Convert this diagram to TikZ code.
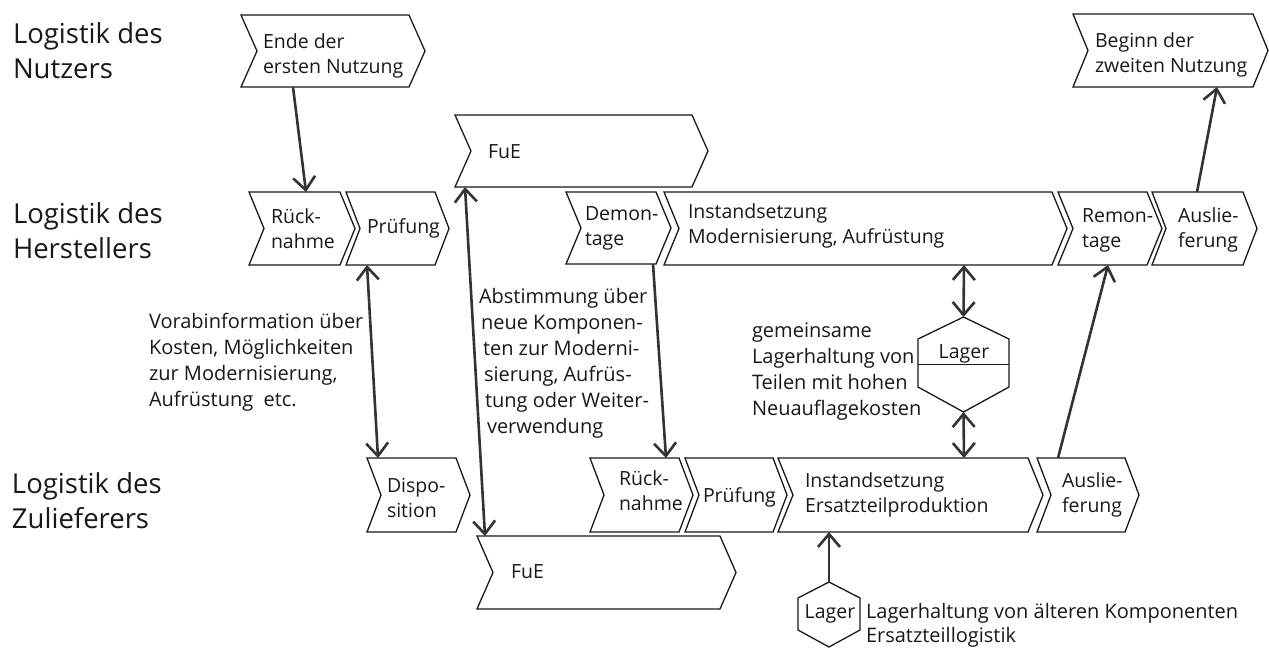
\documentclass[tikz,border=0pt]{standalone}
\usepackage{fontspec}
\setmainfont{Open Sans}
\usetikzlibrary{arrows.meta,calc}
\newcommand{\ml}[1]{\vtop{\halign{##\hfil\cr#1\crcr}}}
\tikzset{
  chevline/.style={draw=black!90, line width=1.3pt, line join=miter},
  geo/.style={draw=none, inner sep=0pt, outer sep=0pt, anchor=north west},
  ctext/.style={anchor=base west, inner sep=0pt, outer sep=0pt, font=\fontsize{19.5}{25.5}\selectfont, text=black!90},
  rowlabel/.style={anchor=base west, inner sep=0pt, outer sep=0pt, font=\fontsize{27.5}{35.5}\selectfont, text=black!90},
  note/.style={anchor=base west, inner sep=0pt, outer sep=0pt, font=\fontsize{20}{26}\selectfont, text=black!90},
  flow/.style={line width=2.6pt, draw=black!80, -{Straight Barb[length=13pt,width=22pt]}},
  flowtwo/.style={flow, {Straight Barb[length=13pt,width=22pt]}-{Straight Barb[length=13pt,width=22pt]}},
}
% name, xl, xr, yt, yb, depth, text x, text baseline, text
\newcommand{\chev}[9]{%
  \node[geo, minimum width={#3-#2}, minimum height={#5-#4}] (#1) at (#2,#4) {};
  \draw[chevline] (#1.north west) -- (#1.north east) -- ([xshift=#6pt]#1.east) -- (#1.south east) -- (#1.south west) -- ([xshift=#6pt]#1.west) -- cycle;
  \node[ctext] (#1-t) at (#7,#8) {#9};
}
\begin{document}
\begin{tikzpicture}[x=1pt,y=-1pt]
\fill[white] (0,0) rectangle (1269,648);
\useasboundingbox (0,0) rectangle (1269,648);

% row labels
\node[rowlabel] (rowN) at (13,43) {\ml{Logistik des\cr Nutzers}};
\node[rowlabel] (rowH) at (13,223) {\ml{Logistik des\cr Herstellers}};
\node[rowlabel] (rowZ) at (12,493) {\ml{Logistik des\cr Zulieferers}};

% Nutzer
\chev{ende}{241}{409}{15}{87}{16}{263}{48}{\ml{Ende der\cr ersten Nutzung}}
\chev{beginn}{1073}{1253}{14}{87}{15}{1095}{47}{\ml{Beginn der\cr zweiten Nutzung}}

% Hersteller
\chev{fueH}{455}{692}{115}{187}{16}{488}{158}{FuE}
\chev{rueckH}{249}{340}{192}{265}{15}{271}{223}{\ml{Rück-\cr nahme}}
\chev{pruefH}{346}{435}{192}{265}{14}{367}{233}{Prüfung}
\chev{demH}{566}{656}{192}{264}{15}{585}{220}{\ml{Demon-\cr tage}}
\chev{instH}{664}{1052}{192}{265}{15}{688}{218}{\ml{Instandsetzung\cr Modernisierung, Aufrüstung}}
\chev{remH}{1058}{1147}{192}{265}{15}{1082}{222}{\ml{Remon-\cr tage}}
\chev{auslH}{1152}{1243}{192}{265}{14}{1178}{222}{\ml{Auslie-\cr ferung}}

% Zulieferer
\chev{dispZ}{367}{456}{458}{532}{14}{387}{492}{\ml{Dispo-\cr sition}}
\chev{fueZ}{477}{720}{536}{609}{16}{511}{578}{FuE}
\chev{rueckZ}{590}{679}{458}{532}{14}{619}{485}{\ml{Rück-\cr nahme}}
\chev{pruefZ}{685}{773}{458}{532}{14}{703}{502}{Prüfung}
\chev{instZ}{778}{1028}{458}{532}{15}{805}{487}{\ml{Instandsetzung\cr Ersatzteilproduktion}}
\chev{auslZ}{1037}{1125}{458}{532}{14}{1062}{487}{\ml{Auslie-\cr ferung}}

% Lager (gemeinsam)
\node[geo, minimum width=91, minimum height=95] (lagerA) at (918,317) {};
\draw[chevline] (lagerA.north) -- ([yshift=-22pt]lagerA.north east) -- ([yshift=25pt]lagerA.south east) -- (lagerA.south) -- ([yshift=25pt]lagerA.south west) -- ([yshift=-22pt]lagerA.north west) -- cycle;
\draw[chevline] (lagerA.west) -- (lagerA.east);
\node[ctext, anchor=base] (lagerA-t) at (964,358) {Lager};

% Lager (Zulieferer)
\node[geo, minimum width=62, minimum height=65] (lagerB) at (798,582) {};
\draw[chevline] (lagerB.north) -- ([yshift=-16pt]lagerB.north east) -- ([yshift=17pt]lagerB.south east) -- (lagerB.south) -- ([yshift=17pt]lagerB.south west) -- ([yshift=-16pt]lagerB.north west) -- cycle;
\node[ctext, anchor=base] (lagerB-t) at (830,618) {Lager};

% notes
\node[note] (vorab) at (149,328) {\ml{Vorabinformation über\cr Kosten, Möglichkeiten\cr zur Modernisierung,\cr Aufrüstung\ \ etc.}};
\node[note] (abst) at (479,303) {\ml{Abstimmung über\cr\hskip2pt neue Komponen-\cr\hskip4pt ten zur Moderni-\cr\hskip5pt sierung, Aufrüs-\cr\hskip6pt tung oder Weiter-\cr\hskip8pt verwendung}};
\node[note] (gem) at (752,337) {\ml{gemeinsame\cr Lagerhaltung von\cr Teilen mit hohen\cr Neuauflagekosten}};
\node[note, font=\fontsize{20}{24}\selectfont] (lh) at (866,618) {\ml{Lagerhaltung von älteren Komponenten\cr Ersatzteillogistik}};

% connectors
\draw[flow] ([xshift=52pt]ende.south west) -- ([xshift=57pt]rueckH.north west);
\draw[flowtwo] ([xshift=21pt]pruefH.south west) -- ([xshift=11pt]dispZ.north west);
\draw[flowtwo] ([xshift=10pt]fueH.south west) -- ([xshift=8pt]fueZ.north west);
\draw[flow] ([xshift=87pt]demH.south west) -- ([xshift=76pt]rueckZ.north west);
\draw[flowtwo] ([xshift=300pt]instH.south west) -- (lagerA.north);
\draw[flowtwo] (lagerA.south) -- ([xshift=186pt]instZ.north west);
\draw[flow] (lagerB.north) -- ([xshift=51pt]instZ.south west);
\draw[flow] ([xshift=21pt]auslZ.north west) -- ([xshift=50pt]remH.south west);
\draw[flow] ([xshift=45pt]auslH.north west) -- ([xshift=144pt]beginn.south west);
\end{tikzpicture}
\end{document}
